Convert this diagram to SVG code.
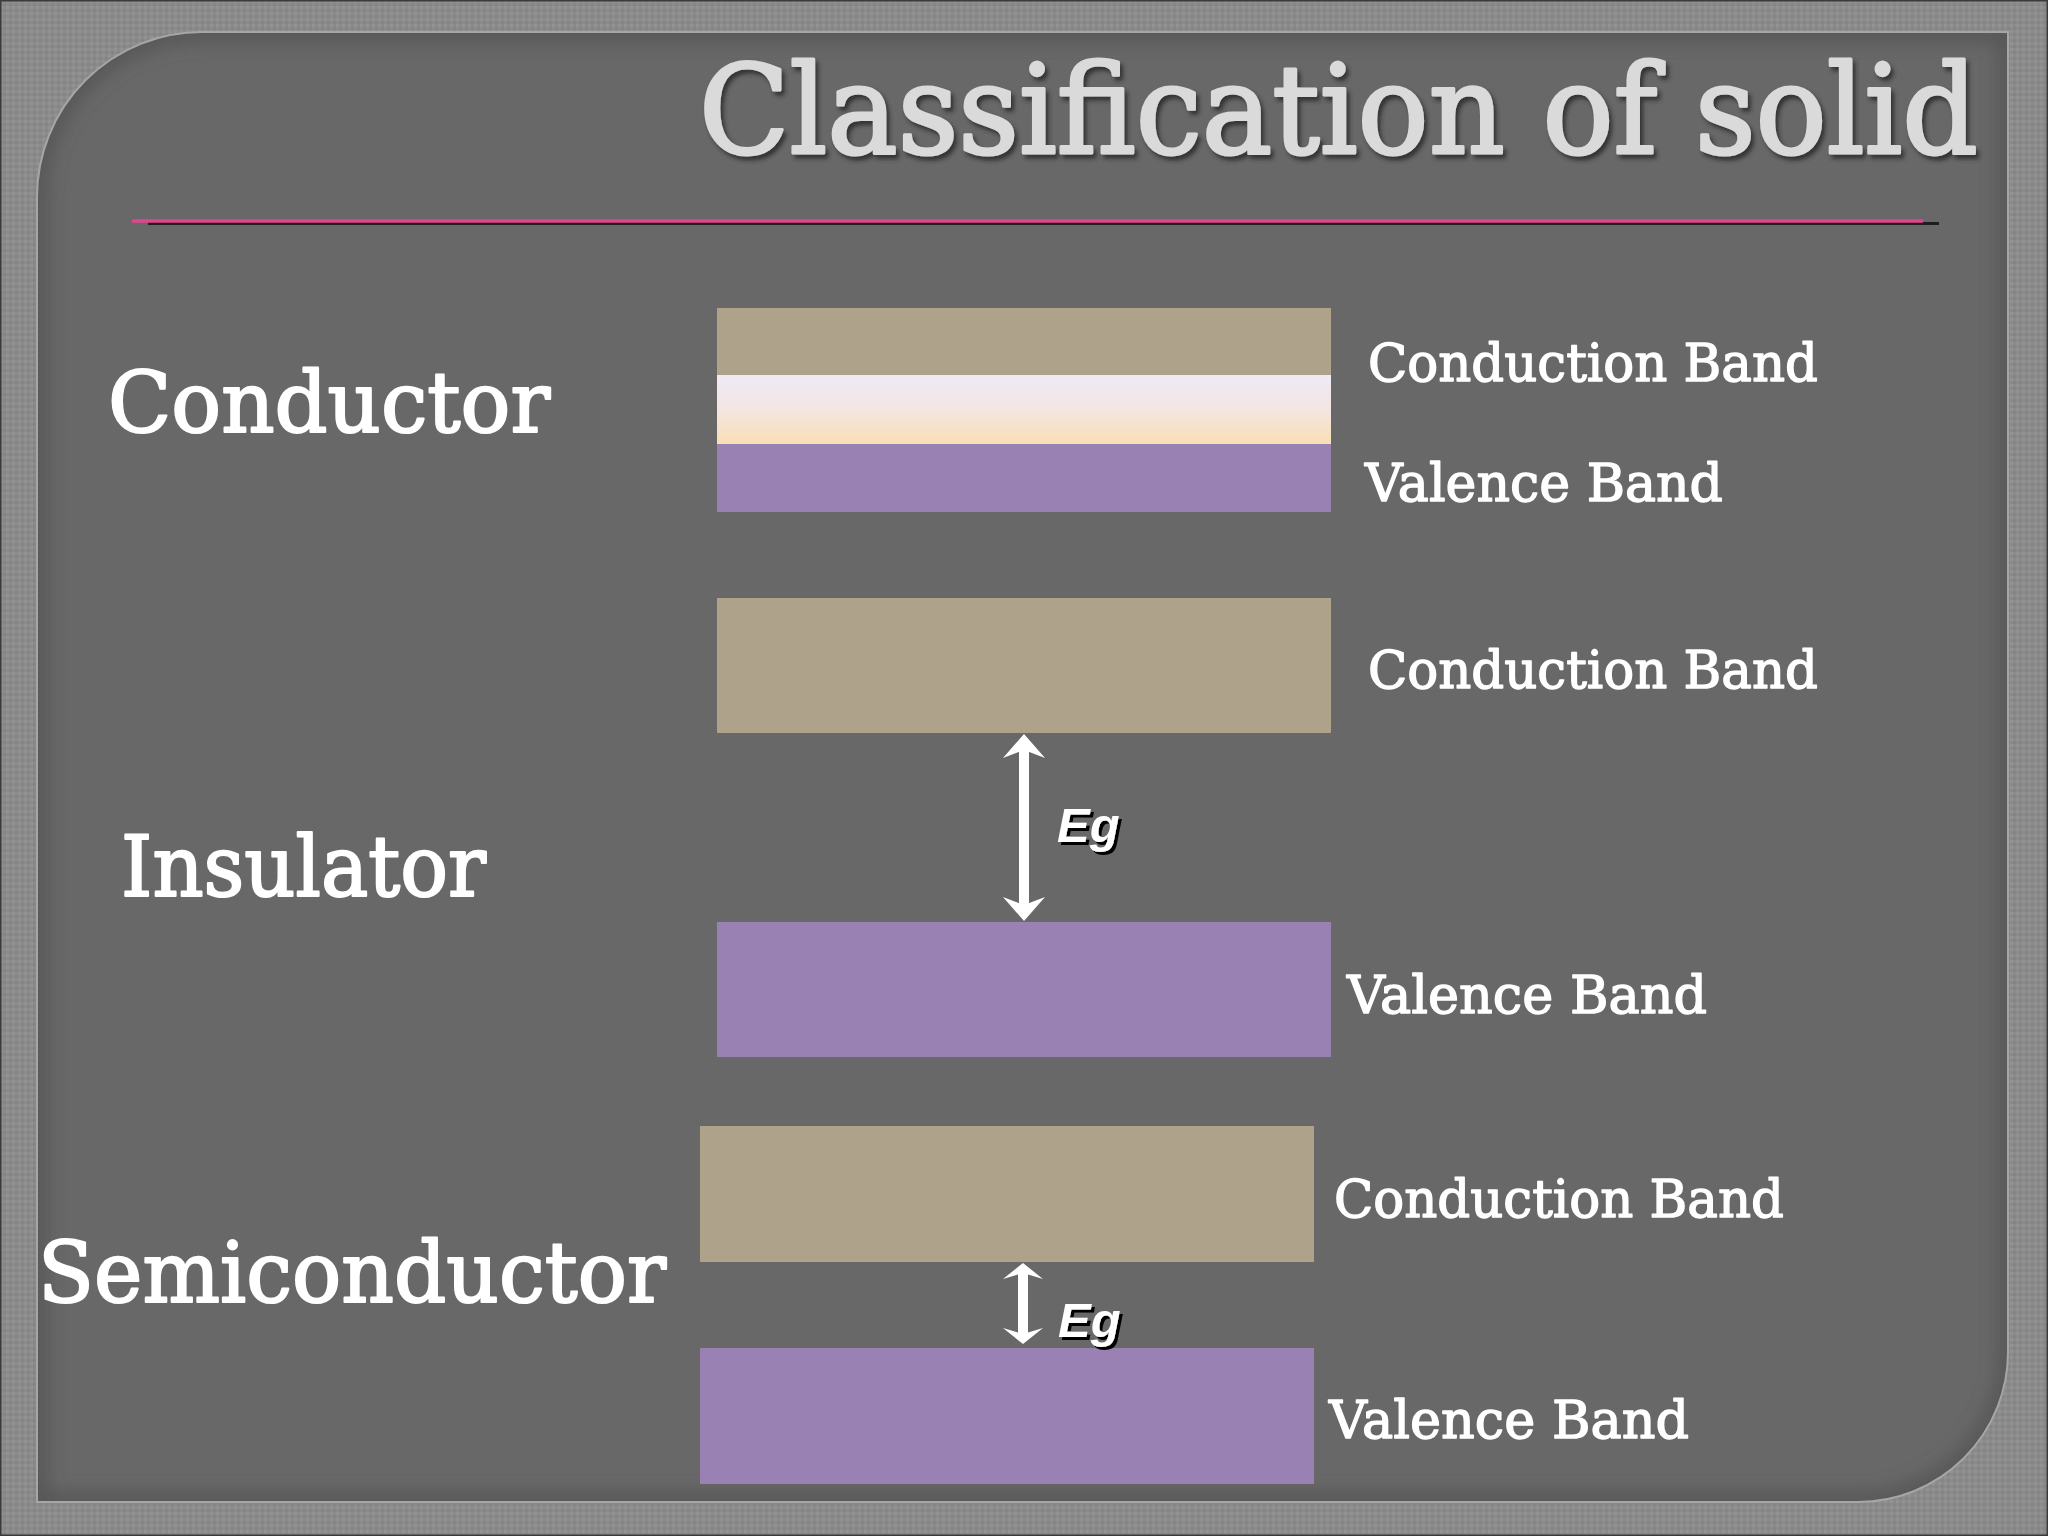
<svg xmlns="http://www.w3.org/2000/svg" width="2048" height="1536" viewBox="0 0 2048 1536">
<defs>
<pattern id="tex" width="6" height="6" patternUnits="userSpaceOnUse">
<rect width="6" height="6" fill="#8b8b8b"/>
<rect width="3" height="3" fill="#929292"/>
<rect x="3" y="3" width="3" height="3" fill="#858585"/>
</pattern>
<linearGradient id="gap" x1="0" y1="0" x2="0" y2="1">
<stop offset="0" stop-color="#eeeaf5"/>
<stop offset="0.5" stop-color="#f3e6e2"/>
<stop offset="1" stop-color="#fadfb4"/>
</linearGradient>
<filter id="emboss" x="-5%" y="-20%" width="110%" height="150%">
<feDropShadow dx="3" dy="4" stdDeviation="2" flood-color="#2a2a2a" flood-opacity="0.85"/>
</filter>
<filter id="egshadow" x="-20%" y="-20%" width="150%" height="150%">
<feDropShadow dx="3" dy="3" stdDeviation="0.6" flood-color="#000" flood-opacity="1"/>
</filter>
<filter id="inner" x="-5%" y="-5%" width="110%" height="110%">
<feGaussianBlur stdDeviation="10"/>
</filter>
<clipPath id="panelClip">
<path d="M202 32 H2008 V1352 A150 150 0 0 1 1858 1502 H37 V197 A165 165 0 0 1 202 32 Z"/>
</clipPath>
<marker id="headL" viewBox="-26 -23 28 46" refX="-16" refY="0" markerWidth="28" markerHeight="46" markerUnits="userSpaceOnUse" orient="auto-start-reverse">
<path d="M0 0 L-24 -21 L-16 0 L-24 21 Z" fill="#fff"/>
</marker>
<marker id="headS" viewBox="-20 -22 22 44" refX="-10" refY="0" markerWidth="22" markerHeight="44" markerUnits="userSpaceOnUse" orient="auto-start-reverse">
<path d="M0 0 L-16 -20 L-10 0 L-16 20 Z" fill="#fff"/>
</marker>
<style>
.lbl{font-family:"DejaVu Serif","Liberation Serif",serif;fill:#fff;stroke:#fff;stroke-linejoin:round}
.big{font-size:85px;stroke-width:2.2}
.band{font-size:53px;stroke-width:1.4}
.eg{font-family:"Liberation Sans",Arial,sans-serif;font-weight:bold;font-style:italic;font-size:49px;fill:#fff;filter:url(#egshadow)}
.cb{fill:#afa28a}
.vb{fill:#9a81b4}
.shaft{stroke:#fff;stroke-width:10;fill:none}
</style>
</defs>

<g id="background">
<rect width="2048" height="1536" fill="url(#tex)"/>
<rect x="0.5" y="0.5" width="2047" height="1535" fill="none" stroke="#3a3a3a" stroke-width="2"/>
<path d="M202 32 H2008 V1352 A150 150 0 0 1 1858 1502 H37 V197 A165 165 0 0 1 202 32 Z" fill="#686868"/>
<g clip-path="url(#panelClip)">
<path d="M202 32 H2008 V1352 A150 150 0 0 1 1858 1502 H37 V197 A165 165 0 0 1 202 32 Z" fill="none" stroke="#4f4f4f" stroke-width="14" filter="url(#inner)"/>
</g>
<path d="M202 32 H2008 V1352 A150 150 0 0 1 1858 1502 H37 V197 A165 165 0 0 1 202 32 Z" fill="none" stroke="#a6a6a6" stroke-width="2"/>
</g>

<g id="title">
<text x="699" y="153" font-family="DejaVu Serif,'Liberation Serif',serif" font-size="123" fill="#dadada" stroke="#dadada" stroke-width="3" stroke-linejoin="round" textLength="1279" lengthAdjust="spacingAndGlyphs" filter="url(#emboss)">Classification of solid</text>
<line x1="148" y1="223.5" x2="1939" y2="223.5" stroke="#1e1e1e" stroke-width="3"/>
<line x1="132" y1="221" x2="1923" y2="221" stroke="#e0468c" stroke-width="3.5"/>
</g>

<g id="conductor">
<text class="lbl big" x="108" y="432" textLength="442" lengthAdjust="spacingAndGlyphs">Conductor</text>
<rect class="cb" x="717" y="308" width="614" height="67"/>
<rect x="717" y="375" width="614" height="69" fill="url(#gap)"/>
<rect class="vb" x="717" y="444" width="614" height="68"/>
<text class="lbl band" x="1368" y="381" textLength="450" lengthAdjust="spacingAndGlyphs">Conduction Band</text>
<text class="lbl band" x="1365" y="501" textLength="358" lengthAdjust="spacingAndGlyphs">Valence Band</text>
</g>

<g id="insulator">
<text class="lbl big" x="121" y="896" textLength="365" lengthAdjust="spacingAndGlyphs">Insulator</text>
<rect class="cb" x="717" y="598" width="614" height="135"/>
<rect class="vb" x="717" y="922" width="614" height="135"/>
<text class="lbl band" x="1368" y="688" textLength="450" lengthAdjust="spacingAndGlyphs">Conduction Band</text>
<text class="lbl band" x="1347" y="1013" textLength="360" lengthAdjust="spacingAndGlyphs">Valence Band</text>
<text class="eg" x="1057" y="842">Eg</text>
</g>

<g id="semiconductor">
<text class="lbl big" x="38" y="1302" textLength="628" lengthAdjust="spacingAndGlyphs">Semiconductor</text>
<rect class="cb" x="700" y="1126" width="614" height="136"/>
<rect class="vb" x="700" y="1348" width="614" height="136"/>
<text class="lbl band" x="1334" y="1217" textLength="450" lengthAdjust="spacingAndGlyphs">Conduction Band</text>
<text class="lbl band" x="1329" y="1438" textLength="360" lengthAdjust="spacingAndGlyphs">Valence Band</text>
<text class="eg" x="1058" y="1337">Eg</text>
</g>

<g id="connectors">
<line class="shaft" x1="1024" y1="750" x2="1024" y2="905" marker-start="url(#headL)" marker-end="url(#headL)"/>
<line class="shaft" x1="1023" y1="1273" x2="1023" y2="1334" marker-start="url(#headS)" marker-end="url(#headS)"/>
</g>
</svg>
